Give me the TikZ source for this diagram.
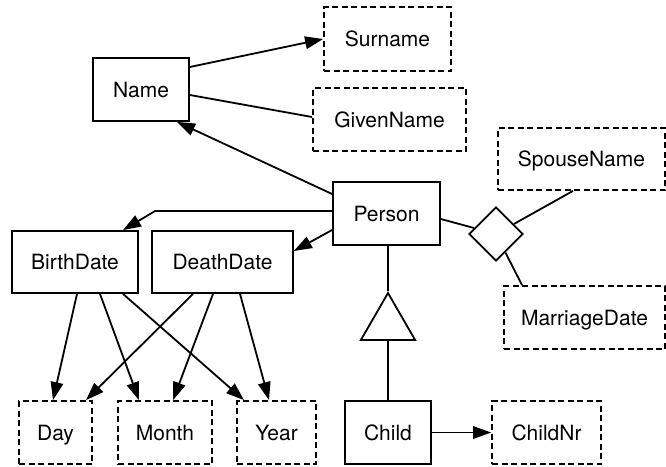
\documentclass[tikz,border=0pt]{standalone}
\usepackage{fontspec}
\setmainfont{TeX Gyre Heros}
\usetikzlibrary{arrows.meta,shapes.geometric}

\begin{document}
\begin{tikzpicture}[
  x=1pt, y=-1pt,
  line width=1.8pt,
  font=\fontsize{21pt}{24pt}\selectfont,
  entity/.style={draw, rectangle, inner sep=0pt, text height=15pt, text depth=0pt},
  attrib/.style={entity, dash pattern=on 6pt off 3.5pt},
  arr/.style={-{Triangle[length=18pt,width=12.5pt]}},
]
\useasboundingbox (0,0) rectangle (666,466);

% entities (solid) and attributes (dashed)
\node[entity, minimum width=96pt,  minimum height=63pt] (name)     at (141,89.5)   {Name};
\node[attrib, minimum width=127pt, minimum height=64pt] (surname)  at (387.5,39)   {Surname};
\node[attrib, minimum width=153pt, minimum height=63pt] (given)    at (389.5,119.5) {GivenName};
\node[attrib, minimum width=167pt, minimum height=62pt] (spouse)   at (581.5,159)  {SpouseName};
\node[entity, minimum width=107pt, minimum height=63pt] (person)   at (386.5,213.5) {Person};
\node[entity, minimum width=126pt, minimum height=62pt] (birth)    at (75,262)     {BirthDate};
\node[entity, minimum width=141pt, minimum height=62pt] (death)    at (222.5,262)  {DeathDate};
\node[attrib, minimum width=161pt, minimum height=63pt] (marriage) at (584.5,317.5) {MarriageDate};
\node[attrib, minimum width=73pt,  minimum height=63pt] (day)      at (55.5,432.5) {Day};
\node[attrib, minimum width=94pt,  minimum height=63pt] (month)    at (165,432.5)  {Month};
\node[attrib, minimum width=79pt,  minimum height=63pt] (year)     at (276.5,432.5) {Year};
\node[entity, minimum width=86pt,  minimum height=63pt] (child)    at (388,432.5)  {Child};
\node[attrib, minimum width=109pt, minimum height=63pt] (childnr)  at (546.5,432.5) {ChildNr};

% relationship diamond and inheritance triangle
\node[draw, diamond, inner sep=0pt, minimum width=54pt, minimum height=54pt] (marry) at (496,234) {};
\node[draw, regular polygon, regular polygon sides=3, inner sep=0pt, minimum size=62.6pt] (isa) at (388,324.3) {};

% Name parts
\draw[arr] ([yshift=22.5pt]name.east) -- (surname.west);
\draw ([yshift=-5.5pt]name.east) -- ([yshift=2.5pt]given.west);

% Person links
\draw[arr] ([yshift=19.5pt]person.west) -- ([xshift=36pt]name.south);
\draw[arr] ([yshift=2.5pt]person.west) -- ++(-177,0) -- ([xshift=48pt]birth.north);
\draw[arr] ([yshift=-16.5pt]person.west) -- ([yshift=11pt]death.east);

% marriage relationship
\draw ([yshift=-5.5pt]person.east) -- (marry);
\draw (marry) -- ([xshift=-8.5pt]spouse.south);
\draw (marry) -- ([xshift=-62.5pt]marriage.north);

% specialisation Person -> Child
\draw (isa.north |- person.south) -- (isa.north);
\draw (isa.south) -- (isa.south |- child.north);
\draw[arr] (child.east) -- (childnr.west);

% date components
\draw[arr] ([xshift=2pt]birth.south)  -- ([xshift=-2.5pt]day.north);
\draw[arr] ([xshift=25pt]birth.south) -- ([xshift=-26pt]month.north);
\draw[arr] ([xshift=48pt]birth.south) -- ([xshift=-32.5pt]year.north);
\draw[arr] ([xshift=-29.5pt]death.south) -- ([xshift=30.5pt]day.north);
\draw[arr] ([xshift=-9.5pt]death.south)  -- ([xshift=8pt]month.north);
\draw[arr] ([xshift=17.5pt]death.south)  -- ([xshift=-7.5pt]year.north);
\end{tikzpicture}
\end{document}
